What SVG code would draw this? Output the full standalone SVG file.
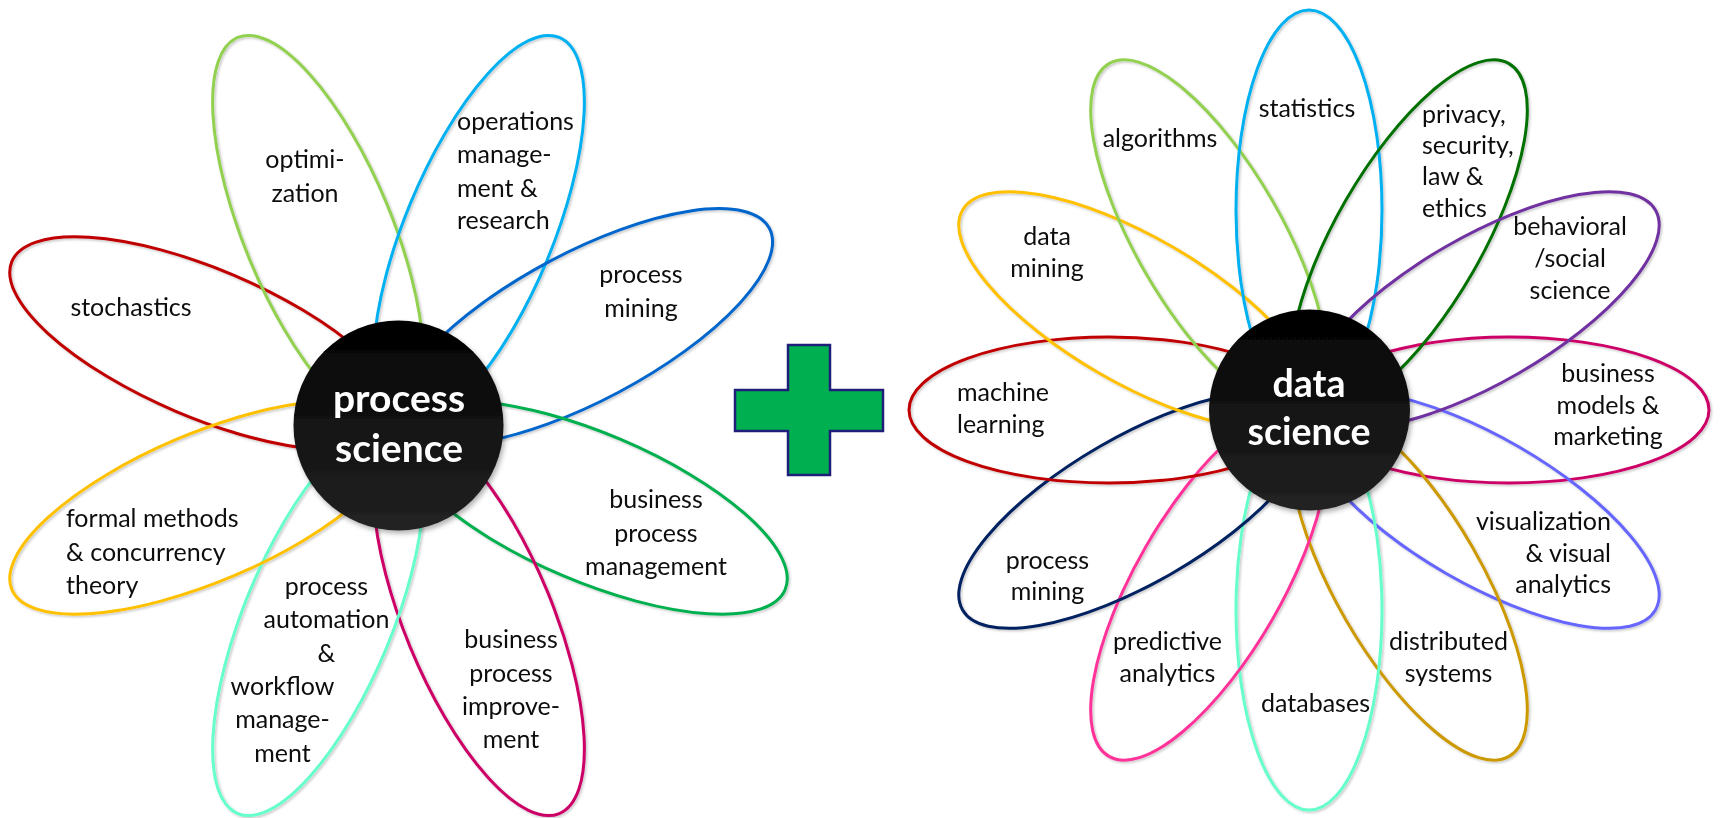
<svg xmlns="http://www.w3.org/2000/svg" width="1720" height="818" viewBox="0 0 1720 818">
<style>
.petal{fill:none;stroke-width:3}
.lbl{font-family:Lato,"Liberation Sans",sans-serif;font-size:25px;fill:#0d0d0d}
.mid{text-anchor:middle}
.end{text-anchor:end}
.ctr{font-family:Lato,"Liberation Sans",sans-serif;font-weight:bold;font-size:39px;fill:#fff;text-anchor:middle}
</style>
<defs>
<filter id="sh" x="-10%" y="-10%" width="120%" height="120%">
<feDropShadow dx="1.5" dy="1.5" stdDeviation="1" flood-color="#000" flood-opacity="0.22"/>
</filter>
<filter id="shc" x="-20%" y="-20%" width="140%" height="140%">
<feDropShadow dx="2" dy="3" stdDeviation="2.5" flood-color="#000" flood-opacity="0.3"/>
</filter>
<linearGradient id="cg" x1="0" y1="0" x2="0" y2="1">
<stop offset="0" stop-color="#000"/>
<stop offset="0.25" stop-color="#0b0b0b"/>
<stop offset="1" stop-color="#222"/>
</linearGradient>
</defs>
<rect width="1720" height="818" fill="#fff"/>

<g id="connectors"></g>

<!-- left flower petals -->
<g id="left-petals" filter="url(#sh)">
<g id="p-stochastics" transform="translate(398.5 425.5) rotate(-157)"><ellipse class="petal" stroke="#C00000" cx="210" cy="0" rx="210" ry="74"/></g>
<g id="p-optimization" transform="translate(398.5 425.5) rotate(-112.5)"><ellipse class="petal" stroke="#92D050" cx="210" cy="0" rx="210" ry="74"/></g>
<g id="p-operations" transform="translate(398.5 425.5) rotate(-67.5)"><ellipse class="petal" stroke="#00B0F0" cx="210" cy="0" rx="210" ry="74"/></g>
<g id="p-processmining-l" transform="translate(398.5 425.5) rotate(-28)"><ellipse class="petal" stroke="#0066CC" cx="210" cy="0" rx="210" ry="74"/></g>
<g id="p-bpm" transform="translate(398.5 425.5) rotate(23)"><ellipse class="petal" stroke="#00B050" cx="210" cy="0" rx="210" ry="74"/></g>
<g id="p-bpi" transform="translate(398.5 425.5) rotate(67.5)"><ellipse class="petal" stroke="#CC0066" cx="210" cy="0" rx="210" ry="74"/></g>
<g id="p-automation" transform="translate(398.5 425.5) rotate(112.5)"><ellipse class="petal" stroke="#66FFCC" cx="210" cy="0" rx="210" ry="74"/></g>
<g id="p-formal" transform="translate(398.5 425.5) rotate(157)"><ellipse class="petal" stroke="#FFC000" cx="210" cy="0" rx="210" ry="74"/></g>
</g>

<!-- right flower petals -->
<g id="right-petals" filter="url(#sh)">
<g id="p-bizmodels" transform="translate(1309 410) rotate(0)"><ellipse class="petal" stroke="#CC0066" cx="200" cy="0" rx="200" ry="73"/></g>
<g id="p-visualization" transform="translate(1309 410) rotate(30)"><ellipse class="petal" stroke="#6666FF" cx="200" cy="0" rx="200" ry="73"/></g>
<g id="p-distributed" transform="translate(1309 410) rotate(60)"><ellipse class="petal" stroke="#CC9900" cx="200" cy="0" rx="200" ry="73"/></g>
<g id="p-databases" transform="translate(1309 410) rotate(90)"><ellipse class="petal" stroke="#66FFCC" cx="200" cy="0" rx="200" ry="73"/></g>
<g id="p-predictive" transform="translate(1309 410) rotate(120)"><ellipse class="petal" stroke="#FF3399" cx="200" cy="0" rx="200" ry="73"/></g>
<g id="p-processmining-r" transform="translate(1309 410) rotate(150)"><ellipse class="petal" stroke="#002060" cx="200" cy="0" rx="200" ry="73"/></g>
<g id="p-ml" transform="translate(1309 410) rotate(180)"><ellipse class="petal" stroke="#C00000" cx="200" cy="0" rx="200" ry="73"/></g>
<g id="p-datamining" transform="translate(1309 410) rotate(210)"><ellipse class="petal" stroke="#FFC000" cx="200" cy="0" rx="200" ry="73"/></g>
<g id="p-algorithms" transform="translate(1309 410) rotate(240)"><ellipse class="petal" stroke="#92D050" cx="200" cy="0" rx="200" ry="73"/></g>
<g id="p-statistics" transform="translate(1309 410) rotate(270)"><ellipse class="petal" stroke="#00B0F0" cx="200" cy="0" rx="200" ry="73"/></g>
<g id="p-privacy" transform="translate(1309 410) rotate(300)"><ellipse class="petal" stroke="#007000" cx="200" cy="0" rx="200" ry="73"/></g>
<g id="p-behavioral" transform="translate(1309 410) rotate(330)"><ellipse class="petal" stroke="#7030A0" cx="200" cy="0" rx="200" ry="73"/></g>
</g>

<!-- centers -->
<g id="n-process-science">
<circle cx="398.5" cy="425.5" r="105" fill="url(#cg)" filter="url(#shc)"/>
<text class="ctr" x="399" y="412">process</text>
<text class="ctr" x="399" y="462">science</text>
</g>
<g id="n-data-science">
<circle cx="1309.5" cy="410" r="100.5" fill="url(#cg)" filter="url(#shc)"/>
<text class="ctr" x="1309" y="397" style="font-size:37.5px">data</text>
<text class="ctr" x="1309" y="445" style="font-size:37.5px">science</text>
</g>

<!-- plus -->
<g id="n-plus">
<path d="M788 345 H830 V390 H883 V431 H830 V475 H788 V431 H735 V390 H788 Z" fill="#00B050" stroke="#1F1F7A" stroke-width="2.5"/>
</g>

<!-- left labels -->
<g id="t-stochastics"><text class="lbl mid" x="131" y="316">stochastics</text></g>
<g id="t-optimization"><text class="lbl mid" x="305" y="168">optimi-</text><text class="lbl mid" x="305" y="201.5">zation</text></g>
<g id="t-operations"><text class="lbl" x="457" y="129.5">operations</text><text class="lbl" x="457" y="163">manage-</text><text class="lbl" x="457" y="196.5">ment &amp;</text><text class="lbl" x="457" y="229">research</text></g>
<g id="t-processmining-l"><text class="lbl mid" x="641" y="283">process</text><text class="lbl mid" x="641" y="316.5">mining</text></g>
<g id="t-bpm"><text class="lbl mid" x="656" y="508">business</text><text class="lbl mid" x="656" y="541.5">process</text><text class="lbl mid" x="656" y="574.5">management</text></g>
<g id="t-bpi"><text class="lbl mid" x="511" y="648">business</text><text class="lbl mid" x="511" y="681.5">process</text><text class="lbl mid" x="511" y="715">improve-</text><text class="lbl mid" x="511" y="748">ment</text></g>
<g id="t-automation"><text class="lbl mid" x="326.5" y="595">process</text><text class="lbl mid" x="326.5" y="628">automation</text><text class="lbl mid" x="326.5" y="662">&amp;</text><text class="lbl mid" x="282.5" y="695">workflow</text><text class="lbl mid" x="282.5" y="728">manage-</text><text class="lbl mid" x="282.5" y="761.5">ment</text></g>
<g id="t-formal"><text class="lbl" x="66" y="527">formal methods</text><text class="lbl" x="66" y="560.5">&amp; concurrency</text><text class="lbl" x="66" y="594">theory</text></g>

<!-- right labels -->
<g id="t-algorithms"><text class="lbl mid" x="1160" y="147">algorithms</text></g>
<g id="t-statistics"><text class="lbl mid" x="1307" y="117">statistics</text></g>
<g id="t-privacy"><text class="lbl" x="1422" y="123">privacy,</text><text class="lbl" x="1422" y="154">security,</text><text class="lbl" x="1422" y="185">law &amp;</text><text class="lbl" x="1422" y="216.5">ethics</text></g>
<g id="t-datamining"><text class="lbl mid" x="1047" y="245">data</text><text class="lbl mid" x="1047" y="277">mining</text></g>
<g id="t-behavioral"><text class="lbl mid" x="1570" y="235">behavioral</text><text class="lbl mid" x="1570" y="267">/social</text><text class="lbl mid" x="1570" y="299">science</text></g>
<g id="t-ml"><text class="lbl" x="957" y="401">machine</text><text class="lbl" x="957" y="433">learning</text></g>
<g id="t-bizmodels"><text class="lbl mid" x="1608" y="382">business</text><text class="lbl mid" x="1608" y="413.5">models &amp;</text><text class="lbl mid" x="1608" y="445">marketing</text></g>
<g id="t-visualization"><text class="lbl end" x="1611" y="530">visualization</text><text class="lbl end" x="1611" y="562">&amp; visual</text><text class="lbl end" x="1611" y="593">analytics</text></g>
<g id="t-processmining-r"><text class="lbl mid" x="1047.5" y="568.5">process</text><text class="lbl mid" x="1047.5" y="600">mining</text></g>
<g id="t-predictive"><text class="lbl mid" x="1167.5" y="650">predictive</text><text class="lbl mid" x="1167.5" y="682">analytics</text></g>
<g id="t-databases"><text class="lbl mid" x="1315.5" y="712">databases</text></g>
<g id="t-distributed"><text class="lbl mid" x="1448.5" y="650">distributed</text><text class="lbl mid" x="1448.5" y="682">systems</text></g>
</svg>
